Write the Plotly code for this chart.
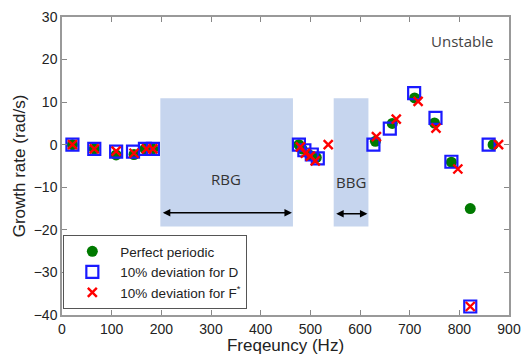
import plotly.graph_objects as go

# Data
perf_f = [21, 65, 109, 145, 167, 183, 477, 483, 499, 512, 631, 665, 710, 750, 784, 822, 868]
perf_g = [0, -1, -2.4, -2.3, -1, -1, 0, -1, -2.5, -3, 0.8, 5.0, 11, 5.1, -4.1, -15, 0]

d_f = [21, 65, 109, 143, 167, 183, 477, 488, 503, 515, 627, 660, 709, 752, 784, 859, 822]
d_g = [0, -1, -1.6, -1.6, -1, -1, 0, -1.3, -2.3, -3.2, 0, 3.8, 12.1, 6.3, -4, 0, -38]

f_f = [21, 65, 109, 145, 170, 183, 480, 490, 500, 510, 536, 633, 673, 717, 753, 797, 879, 822]
f_g = [0, -1, -1.5, -2, -1, -1, -0.5, -2, -2.7, -3.8, 0, 1.9, 6, 10.2, 3.9, -5.7, 0, -38]

band_names = ["RBG", "BBG"]
band_x0 = [198, 547]
band_x1 = [465, 617]
band_y0 = [-19.2, -19.2]
band_y1 = [10.9, 10.9]
arrow_y = [-16, -16.2]
arrow_x0 = [200, 549]
arrow_x1 = [463, 615]
label_x = [331, 581]
label_y = [-8, -8.8]

x_ticks = list(range(0, 901, 100))
y_ticks = list(range(-40, 31, 10))

fig = go.Figure()

fig.add_trace(go.Scatter(x=perf_f, y=perf_g, mode="markers", name="Perfect periodic",
                         marker=dict(symbol="circle", size=11, color="#007a00")))
fig.add_trace(go.Scatter(x=d_f, y=d_g, mode="markers", name="10% deviation for D",
                         marker=dict(symbol="square-open", size=12, color="#1a1aff",
                                     line=dict(width=2.2, color="#1a1aff"))))
fig.add_trace(go.Scatter(x=f_f, y=f_g, mode="markers", name="10% deviation for F<sup>*</sup>",
                         marker=dict(symbol="x-thin-open", size=9, color="#ff0000",
                                     line=dict(width=2.4, color="#ff0000"))))

shapes = []
annotations = []
for i in range(len(band_names)):
    shapes.append(dict(type="rect", xref="x", yref="y", x0=band_x0[i], x1=band_x1[i],
                       y0=band_y0[i], y1=band_y1[i], fillcolor="#c6d5ee",
                       line=dict(width=0), layer="below"))
    annotations.append(dict(x=arrow_x1[i], y=arrow_y[i], ax=arrow_x0[i],
                            ay=arrow_y[i], xref="x", yref="y", axref="x", ayref="y",
                            text="", showarrow=True, arrowhead=2, arrowside="end+start",
                            arrowsize=1, arrowwidth=1.5, arrowcolor="black",
                            startarrowhead=2, startarrowsize=1))
    annotations.append(dict(x=label_x[i], y=label_y[i], xref="x", yref="y", text=band_names[i],
                            showarrow=False, font=dict(family="Open Sans", size=15, color="#333")))

annotations.append(dict(x=872, y=24.4, xref="x", yref="y", text="Unstable", showarrow=False,
                        xanchor="right", font=dict(family="Open Sans", size=15, color="#444")))

fig.update_layout(
    width=526, height=355,
    margin=dict(l=62, r=17, t=17, b=40),
    paper_bgcolor="white", plot_bgcolor="white",
    font=dict(family="Liberation Sans", size=14, color="#222"),
    shapes=shapes, annotations=annotations,
    showlegend=True,
    legend=dict(x=0.003, y=0.02, xanchor="left", yanchor="bottom",
                bordercolor="#555", borderwidth=1, bgcolor="white",
                font=dict(family="Liberation Sans", size=13.5), itemwidth=46,
                tracegroupgap=0),
    xaxis=dict(range=[0, 900], tickvals=x_ticks, ticks="inside", ticklen=5,
               tickcolor="#888", showline=True, linecolor="#999", linewidth=1.5,
               mirror="ticks", showgrid=False, zeroline=False, automargin=False,
               tickfont=dict(size=14),
               title=dict(text="Freqeuncy (Hz)", font=dict(size=17), standoff=8)),
    yaxis=dict(range=[-40, 30], tickvals=y_ticks, ticks="inside", ticklen=5,
               tickcolor="#888", showline=True, linecolor="#999", linewidth=1.5,
               mirror="ticks", showgrid=False, zeroline=False, automargin=False,
               tickfont=dict(size=14),
               title=dict(text="Growth rate (rad/s)", font=dict(size=17), standoff=4)),
)

fig.write_html("out.html")
